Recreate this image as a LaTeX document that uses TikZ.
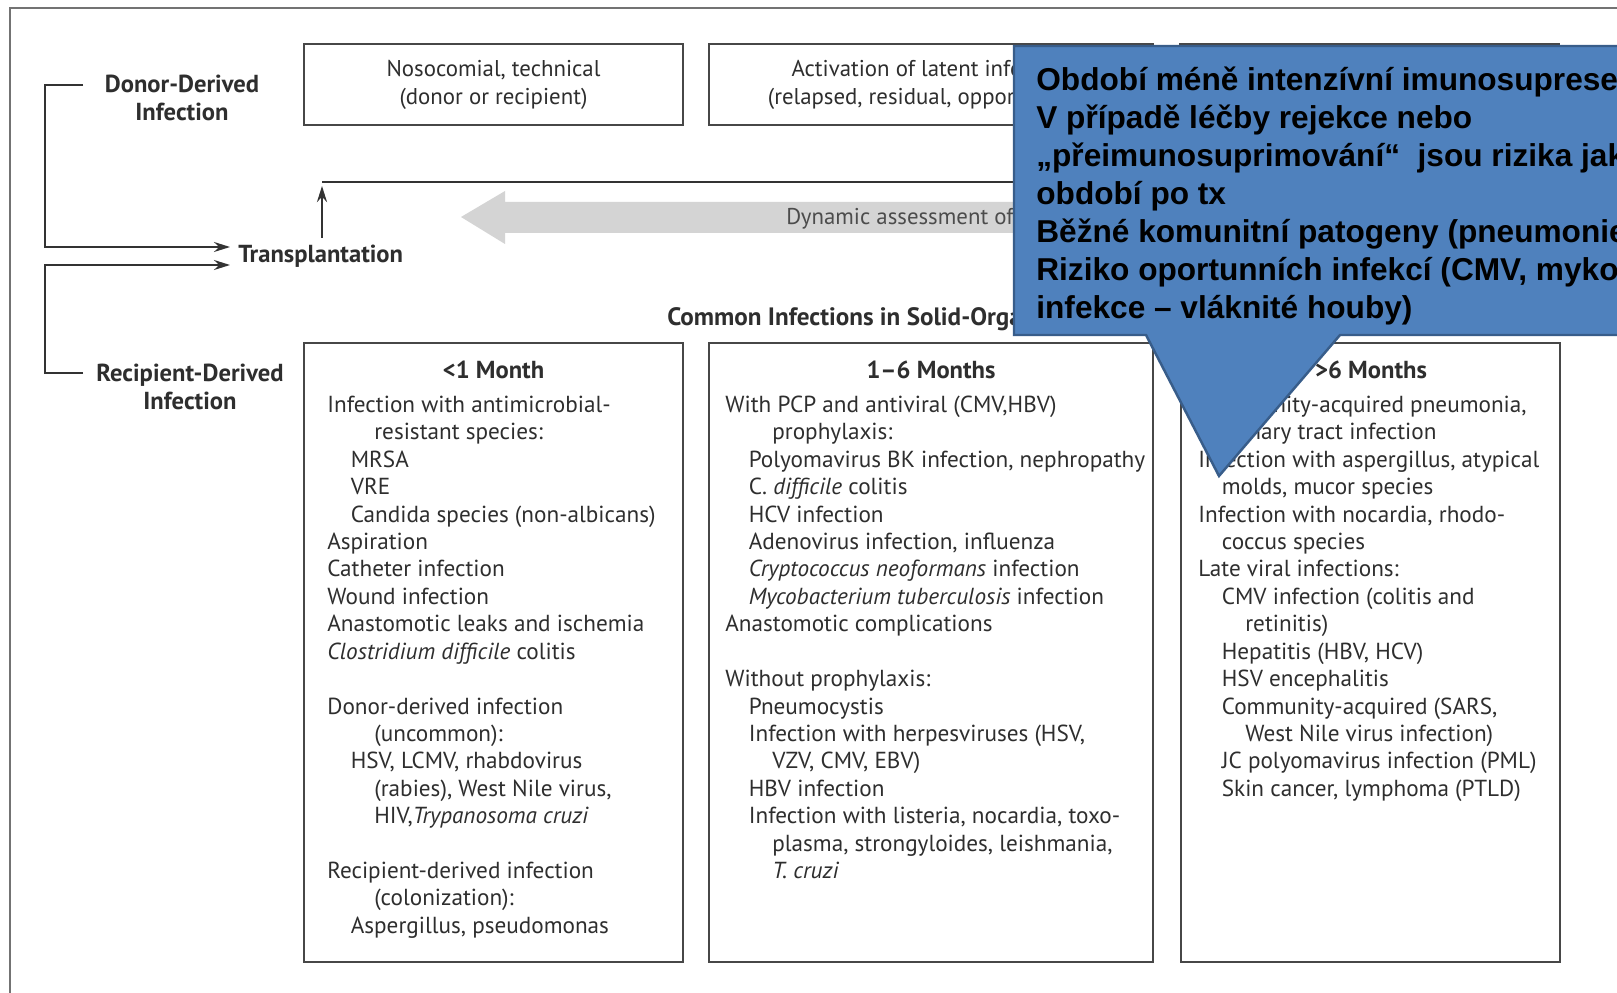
\documentclass[tikz,border=0pt]{standalone}
\usepackage{fontspec}
\setmainfont{PT Sans}
\newfontfamily\calloutfont{Liberation Sans}
\usetikzlibrary{arrows.meta}
\definecolor{calloutblue}{HTML}{4F81BD}
\definecolor{calloutedge}{HTML}{385D8A}
\definecolor{inkgray}{HTML}{2E2E2E}
\newcommand{\indA}{\hspace*{0.47cm}}
\newcommand{\indB}{\hspace*{0.94cm}}
\begin{document}
\begin{tikzpicture}[x=0.02cm, y=-0.02cm, >={Stealth[length=0.32cm, width=0.2cm]},
    every node/.style={text=inkgray},
    outerframe/.style={draw=black!55, line width=1.2pt},
    box/.style={draw=black!72, line width=1pt},
    link/.style={draw=black!80, line width=1.1pt},
    bodytext/.style={anchor=north west, inner sep=0pt, align=left, font=\fontsize{13.2}{15.6}\selectfont},
    monthhead/.style={inner sep=0pt, font=\fontsize{14}{15.6}\selectfont\bfseries},
    sidelabel/.style={inner sep=0pt, align=center, font=\fontsize{14}{15.9}\selectfont\bfseries}]
  \useasboundingbox (0,0) rectangle (1617,993);
  \fill[white] (0,0) rectangle (1617,993);
  \clip (0,0) rectangle (1617,993);
  \draw[outerframe] (10,993) -- (10,8) -- (1617,8);
  % top row
  \draw[box] (304,44) rectangle (683,125);
  \draw[box] (709,44) rectangle (1153,125);
  \draw[box] (1180,44) rectangle (1559,125);
  \node[align=center, font=\fontsize{13}{15.9}\selectfont] (noso) at (493.5,85) {Nosocomial, technical\\(donor or recipient)};
  \node[align=center, font=\fontsize{13}{15.9}\selectfont] (latent) at (931,85) {Activation of latent infection\\(relapsed, residual, opportunistic)};
  % timeline
  \node[sidelabel] (donor) at (182,98) {Donor-Derived\\Infection};
  \node[sidelabel] (recip) at (190,387) {Recipient-Derived\\Infection};
  \node[anchor=west, inner sep=0pt, font=\fontsize{14}{15.6}\selectfont\bfseries] (transpl) at (238,256) {Transplantation};
  \coordinate (dstub) at (83,85);
  \coordinate (rstub) at (83,373);
  \coordinate (din) at (230,247);
  \coordinate (rin) at (230,265);
  \coordinate (tbase) at (322,238);
  \coordinate (ttop) at (322,186);
  \coordinate (tline) at (1580,182);
  \draw[link, ->] (dstub) -- (45,85) |- (din);
  \draw[link, ->] (rstub) -- (45,373) |- (rin);
  \draw[link, line width=1.4pt, ->] (tbase) -- (ttop);
  \draw[link] (ttop |- tline) -- (tline);
  \fill[black!17] (461,217) -- (505,191) -- (505,202) -- (1560,202) -- (1560,233) -- (505,233) -- (505,244) -- cycle;
  \node[anchor=west, inner sep=0pt, font=\fontsize{13}{15}\selectfont, text=black!70] (dyn) at (786,219) {Dynamic assessment of risk};
  \node[anchor=west, inner sep=0pt, font=\fontsize{14.3}{15.6}\selectfont\bfseries] (common) at (667,319) {Common Infections in Solid-Organ Transplant Recipients};
  % month columns
  \draw[box] (304,343) rectangle (683,962);
  \draw[box] (709,343) rectangle (1153,962);
  \draw[box] (1181,343) rectangle (1560,962);
  \node[monthhead] (hA) at (493.5,370) {<1 Month};
  \node[monthhead] (hB) at (931,370) {1–6 Months};
  \node[monthhead] (hC) at (1371,370) {>6 Months};
  \node[bodytext] (early) at (327,393) {\strut Infection with antimicrobial-\\
    \indB resistant species:\\
    \indA MRSA\\
    \indA VRE\\
    \indA Candida species (non-albicans)\\
    Aspiration\\
    Catheter infection\\
    Wound infection\\
    Anastomotic leaks and ischemia\\
    \textit{Clostridium difficile} colitis\\[15.6pt]
    Donor-derived infection\\
    \indB (uncommon):\\
    \indA HSV, LCMV, rhabdovirus\\
    \indB (rabies), West Nile virus,\\
    \indB HIV,\textit{Trypanosoma cruzi}\\[15.6pt]
    Recipient-derived infection\\
    \indB (colonization):\\
    \indA Aspergillus, pseudomonas};
  \node[bodytext] (middle) at (725,393) {\strut With PCP and antiviral (CMV,HBV)\\
    \indB prophylaxis:\\
    \indA Polyomavirus BK infection, nephropathy\\
    \indA C. \textit{difficile} colitis\\
    \indA HCV infection\\
    \indA Adenovirus infection, influenza\\
    \indA \textit{Cryptococcus neoformans} infection\\
    \indA \textit{Mycobacterium tuberculosis} infection\\
    Anastomotic complications\\[15.6pt]
    Without prophylaxis:\\
    \indA Pneumocystis\\
    \indA Infection with herpesviruses (HSV,\\
    \indB VZV, CMV, EBV)\\
    \indA HBV infection\\
    \indA Infection with listeria, nocardia, toxo-\\
    \indB plasma, strongyloides, leishmania,\\
    \indB \textit{T. cruzi}};
  \node[bodytext] (late) at (1198,393) {\strut Community-acquired pneumonia,\\
    \indA urinary tract infection\\
    Infection with aspergillus, atypical\\
    \indA molds, mucor species\\
    Infection with nocardia, rhodo-\\
    \indA coccus species\\
    Late viral infections:\\
    \indA CMV infection (colitis and\\
    \indB retinitis)\\
    \indA Hepatitis (HBV, HCV)\\
    \indA HSV encephalitis\\
    \indA Community-acquired (SARS,\\
    \indB West Nile virus infection)\\
    \indA JC polyomavirus infection (PML)\\
    \indA Skin cancer, lymphoma (PTLD)};
  % callout
  \filldraw[fill=calloutblue, draw=calloutedge, line width=1.4pt] (1014,46) -- (1630,46) -- (1630,335) -- (1340,335) -- (1219,476) -- (1146,335) -- (1014,335) -- cycle;
  \node[anchor=north west, inner sep=0pt, align=left, text=black, font=\calloutfont\bfseries\fontsize{18}{21.7}\selectfont] (note) at (1036,63) {\strut Období méně intenzívní imunosuprese\\
    V případě léčby rejekce nebo\\
    „přeimunosuprimování“~~jsou rizika jako\\
    období po tx\\
    Běžné komunitní patogeny (pneumonie,\\
    Riziko oportunních infekcí (CMV, mykotické\\
    infekce – vláknité houby)};
\end{tikzpicture}
\end{document}
